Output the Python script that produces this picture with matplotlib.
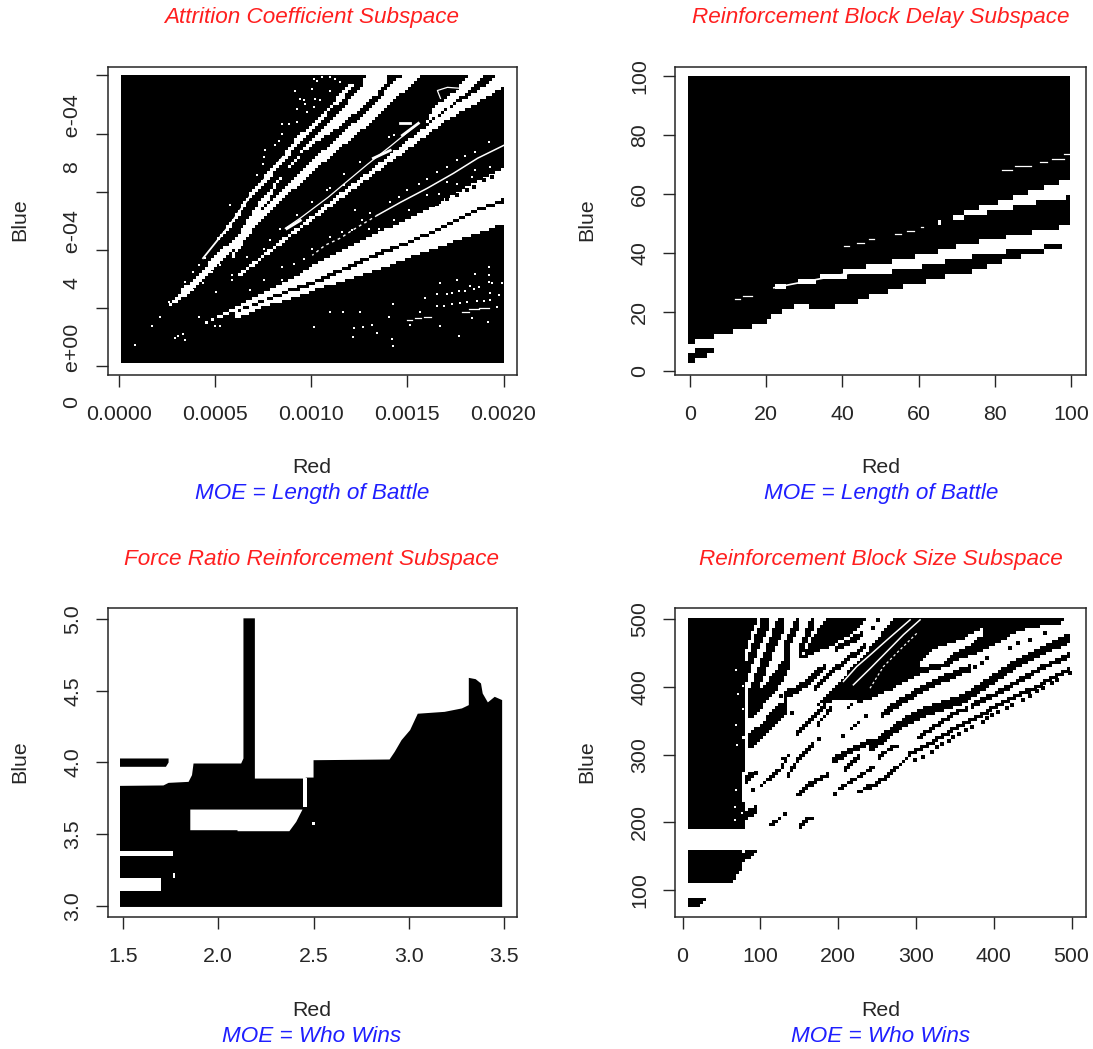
import numpy as np
import matplotlib
matplotlib.use("Agg")
import matplotlib.pyplot as plt
from matplotlib.path import Path

plt.rcParams['font.family'] = ['Liberation Sans', 'DejaVu Sans']

W, H = 1093, 1049
INK = '#262626'
RED = '#ff1f1f'
BLUE = '#1f1fff'

# ---------- Attrition panel (Red in 1e-5, Blue in 1e-6) ----------
AT_XTICKS = [0, 0.0005, 0.0010, 0.0015, 0.0020]
AT_XLABELS = ['0.0000', '0.0005', '0.0010', '0.0015', '0.0020']
AT_YTICKS = [0, 2e-4, 4e-4, 6e-4, 8e-4, 1e-3]
AT_YLABELS = ['0    e+00', '', '4    e-04', '', '8    e-04', '']
AT_XRANGE = (1, 200)
AT_YRANGE = (10, 1003)

AT_T1_R = [43.7, 57.8, 68.2, 77.6, 85.4, 92.7, 101, 108.8, 117.7, 121.3, 124, 116.7, 108.8, 102.1, 94.3, 87.5, 78.6, 68.2, 57.8, 47.4]
AT_T1_B = [371, 495, 594, 667, 725, 787, 838, 890, 955, 976, 976, 924, 873, 821, 773, 715, 649, 577, 478, 405]
AT_M_R = [25, 33.3, 42.2, 49, 61.5, 73, 82.5, 90.3, 97.5, 105.3, 113, 120.5, 126.6, 128.1, 140.1, 140.1, 134.4, 125.5, 115.1, 106.2, 96.9, 88, 82.5, 79, 71, 66, 56, 45, 35, 25.5]
AT_M_B = [203, 268, 320, 375, 450, 563, 639, 701, 759, 811, 862, 921, 966, 1003, 1003, 983, 938, 886, 828, 787, 742, 680, 629, 581, 512, 433, 385, 305, 244, 199]
AT_B2_R = [57.8, 67.2, 81.8, 95.8, 114.1, 130.2, 143.7, 147.9, 157.8, 152.6, 133.3, 115.1, 96.9, 82.8, 68.2, 58.9]
AT_B2_B = [378, 481, 588, 680, 787, 886, 983, 1003, 1003, 976, 852, 752, 646, 557, 457, 371]
AT_W3_R = [61.5, 94.3, 110.4, 128.1, 146.3, 169.8, 188, 195.8, 200, 200, 188, 169.8, 146.3, 128.1, 110.4, 94.3, 62.5]
AT_W3_B = [313, 484, 570, 660, 756, 880, 955, 1003, 1003, 962, 914, 845, 728, 639, 550, 471, 306]
AT_W3B_R = [181.2, 189.6, 180.2, 167.2, 159.4, 164.6, 175]
AT_W3B_B = [1003, 1003, 941, 873, 838, 897, 948]
AT_LA_R = [38.5, 52.6, 69.8, 90.6, 104.7, 116.7, 134.4, 151.6, 168.7, 186.5, 200, 200, 186.5, 168.7, 151.6, 134.4, 116.7, 99.5, 87.5, 69.8, 52.6]
AT_LA_B = [131, 175, 234, 302, 361, 399, 457, 512, 570, 639, 684, 577, 543, 484, 433, 392, 340, 289, 261, 213, 168]
AT_LB_R = [200, 186.5, 168.7, 151.6, 134.4, 116.7, 99.5, 87.5, 69.8, 59.4, 59.4, 75, 83.8, 104.7, 134.4, 151.6, 168.7, 186.5, 200]
AT_LB_B = [564, 533, 474, 423, 378, 326, 275, 251, 206, 182, 158, 203, 220, 268, 330, 375, 416, 457, 491]
AT_MID_R = [200, 186.5, 173.9, 160.4, 146.3, 134.4]
AT_MID_B = [759, 715, 663, 612, 563, 519]
AT_MIDD_R = [134.4, 121.3, 115.1, 107.3, 100.5]
AT_MIDD_B = [519, 467, 440, 416, 381]
AT_THIN_R = [86.5, 94.3, 108.8, 129.2, 141.1, 155.1]
AT_THIN_B = [474, 509, 581, 694, 756, 832]
AT_TIP_R = [43.7, 57.8, 68.2, 77.6, 85.4]
AT_TIP_B = [371, 487, 585, 658, 720]
AT_CHAIN_R = [167.2, 165.6, 170.8, 179.1]
AT_CHAIN_B = [921, 948, 959, 955]
AT_BLOBS = [([132.3, 141.1], [715, 742]), ([147.4, 155.7], [794, 835]), ([146.3, 151.6], [835, 835]), ([87.3, 94.3], [473, 501])]
AT_DASH_R = [(149.8, 152.4), (154.2, 157.1), (158.5, 162.3), (178.5, 182), (182, 187.2), (187.2, 192.4)]
AT_DASH_B = [158, 164, 170, 187, 195, 198]
AT_SPECK_R = [101.6, 109.6, 116.5, 125.5, 122.1, 126.9, 131.6, 121.7, 134.2, 142, 142.4, 140.6, 142.4, 156.4, 151.2, 159.4, 165.5, 165.5, 170.7, 173.3, 167.2, 175.9, 176.8, 180.2, 182.5, 184.6, 184.9, 192.4, 192.4, 192.4, 194.1, 187.2, 193.2, 197.6, 199.3, 168.9, 173.3, 177.1, 181.1, 186, 189.8, 193.2, 196.4, 166.9, 176.8, 183.7, 192,
              91.6, 92.5, 94.2, 96, 96.8, 100.3, 101.2, 102.9, 105.5, 109.9, 112.5, 115.1, 109.9, 102.1, 104.7, 97.7, 101.2, 88.2, 84.7, 84.7, 83, 81.2, 76, 75.5, 74.8, 71.7, 92.5,
              8.3, 17, 21.4, 26.2, 29.2, 30.9, 33.5, 34.4, 41.8, 50, 52.6, 38.4, 43.6, 50.5, 34.4, 41.8, 44.8, 38.4, 48.3, 52.6, 66.5, 57.8, 68.2, 58.7, 58.7, 75.5, 84.7, 83.9, 92.5, 90.8, 96, 100.3, 101.2, 75.2, 78.6, 84.7, 76,
              116.9, 125.5, 140.3, 142.9, 100.4, 109.9, 108.2, 116.9, 122.9, 126.4, 141.2, 130.7, 142.9, 150.7, 155.9, 160.3, 170.7, 165.5, 175.9, 180.2, 185.4, 192.4, 193.2, 185.4, 183.7, 175.9, 170.7, 166.3, 160.3, 145.5, 149.8, 135.1, 129.9, 116, 109.9, 121.2]
AT_SPECK_B = [135, 187, 187, 187, 130, 135, 141, 101, 113, 92, 69, 170, 213, 187, 141, 233, 248, 206, 248, 250, 284, 296, 258, 258, 275, 264, 315, 342, 313, 290, 284, 273, 250, 246, 284, 206, 213, 218, 221, 225, 224, 227, 204, 138, 105, 164, 153,
              948, 885, 919, 914, 902, 954, 988, 982, 994, 994, 988, 977, 948, 919, 914, 874, 891, 834, 834, 799, 776, 759, 742, 719, 696, 656, 839,
              72, 137, 169, 221, 95, 103, 110, 91, 169, 137, 137, 263, 286, 255, 289, 347, 373, 324, 324, 347, 375, 553, 263, 312, 295, 295, 341, 470, 518, 352, 370, 404, 135, 404, 433, 295, 530,
              662, 702, 788, 794, 565, 611, 605, 622, 536, 504, 565, 525, 504, 536, 628, 645, 685, 668, 708, 722, 737, 771, 685, 674, 651, 628, 633, 593, 588, 582, 605, 473, 473, 462, 445, 467]
AT_TEETH_R = [194.1, 189.8, 184.6, 181.1, 175.9, 170.7, 165.5]
AT_TEETH_B = [651, 639, 616, 607, 588, 576, 559]

# ---------- Block delay panel ----------
BD_XTICKS = [0, 20, 40, 60, 80, 100]
BD_YTICKS = [0, 20, 40, 60, 80, 100]
BD_XRANGE = (-0.6, 99.7)
BD_YRANGE = (2.6, 100)
BD_LOW_R = [-0.6, 2.3, 7.7, 14, 19.3, 22, 26.5, 30, 34.5, 40, 43.5, 48, 53.3, 56.9, 62.3, 68.5, 73.9, 79.2, 85.5, 90.9, 95.3, 98]
BD_LOW_B = [8.2, 10.5, 12.2, 14.5, 16.2, 19, 21.8, 22.4, 20.7, 22.4, 23.5, 25.8, 27.5, 29.2, 30.3, 32.5, 33.7, 35.9, 38.2, 39.9, 41.2, 41.2]
BD_B1T_R = [64, 71.2, 81, 90.9, 99.7]
BD_B1T_B = [49.8, 53.4, 57.4, 61.4, 64.9]
BD_B1L_R = [100.5, 99.7, 93.6, 86.4, 80.1, 72.1, 64]
BD_B1L_B = [59.1, 59.1, 58, 55.7, 54.6, 52.3, 49.8]
BD_B2T_R = [22, 32.7, 43.5, 53.3, 63.1, 68.5, 78.4, 86.4, 92.7, 99.7, 100.5]
BD_B2T_B = [28.6, 31.4, 34.8, 37.1, 39.9, 41.6, 44.4, 46.1, 47.8, 49.5, 49.5]
BD_B2L_R = [100.5, 98, 85.5, 81, 71.2, 63.1, 53.3, 48, 43.5, 32.7, 27.4, 22]
BD_B2L_B = [42.9, 42.9, 41, 39.9, 38.2, 35.9, 33.7, 32.5, 32.5, 30.3, 29.2, 27.7]
BD_THIN_R = [22, 27.4, 32.7, 43.5]
BD_THIN_B = [28.2, 29.6, 30.9, 33.6]
BD_ISLE_R = [-0.6, 1.5, 6.5, 6.5, 5, 2.3, -0.6]
BD_ISLE_B = [6, 7, 8.2, 6.5, 5.4, 4, 2.6]
BD_DASH_R = [(11.7, 13), (14, 16.2), (40.3, 41.7), (43.9, 45.7), (46.9, 48.4), (53.8, 55.4), (56.9, 58.7), (60.6, 61.2), (81.9, 84.6), (85.2, 89.5), (91.8, 93.6), (94.9, 98), (98, 99.7)]
BD_DASH_B = [24.3, 25.4, 42.4, 43.5, 44.6, 46.3, 47.5, 48.9, 68.2, 69.6, 70.7, 71.9, 73.4]

# ---------- Force ratio panel ----------
FR_XTICKS = [1.5, 2.0, 2.5, 3.0, 3.5]
FR_YTICKS = [3.0, 3.5, 4.0, 4.5, 5.0]
FR_MAIN_R = [1.484, 3.49, 3.49, 3.451, 3.415, 3.388, 3.379, 3.351, 3.315, 3.315, 3.279, 3.188, 3.047, 3.007, 2.962, 2.926, 2.899, 2.5, 2.5, 2.464, 2.446, 2.192, 2.192, 2.132, 2.132, 2.12, 1.87, 1.862, 1.844, 1.739, 1.712, 1.484]
FR_MAIN_B = [2.993, 2.993, 4.435, 4.458, 4.419, 4.481, 4.551, 4.581, 4.59, 4.4, 4.377, 4.353, 4.34, 4.226, 4.156, 4.074, 4.021, 4.016, 3.895, 3.895, 3.888, 3.888, 5.005, 5.005, 4.028, 3.993, 3.993, 3.912, 3.865, 3.858, 3.84, 3.837]
FR_HOLE_R = [1.853, 2.442, 2.409, 2.373, 2.101, 2.101, 1.853]
FR_HOLE_B = [3.672, 3.672, 3.586, 3.521, 3.521, 3.528, 3.528]
FR_SLIT_R = [2.446, 2.464, 2.464, 2.446]
FR_SLIT_B = [3.69, 3.69, 3.895, 3.895]
FR_STRIP_R = [1.484, 1.763, 1.763, 1.484]
FR_STRIP_B = [3.349, 3.349, 3.383, 3.383]
FR_RECT_R = [1.484, 1.699, 1.699, 1.484]
FR_RECT_B = [3.102, 3.102, 3.195, 3.195]
FR_SMALL1_R = [1.763, 1.772, 1.772, 1.763]
FR_SMALL1_B = [3.195, 3.195, 3.23, 3.23]
FR_SMALL2_R = [2.49, 2.51, 2.51, 2.49]
FR_SMALL2_B = [3.563, 3.563, 3.586, 3.586]
FR_ISLE_R = [1.484, 1.739, 1.739, 1.725, 1.484]
FR_ISLE_B = [4.028, 4.028, 4.0, 3.97, 3.97]

# ---------- Block size panel ----------
BS_XTICKS = [0, 100, 200, 300, 400, 500]
BS_YTICKS = [100, 200, 300, 400, 500]
BS_XRANGE = (7, 498)
BS_YRANGE = (75, 501)
BS_BLOCK_R = [7, 96.5, 88.8, 82.4, 80.3, 79.4, 82.4, 78.1, 82.4, 78.1, 78.1, 82.4, 80.3, 7]
BS_BLOCK_B = [501, 501, 477, 455, 440, 410, 366, 324, 297, 272, 233, 223, 191, 191]
BS_BLOCK2_R = [7, 73.8, 78.1, 99.5, 97.4, 84.5, 71.7, 80.3, 71.7, 63.1, 7]
BS_BLOCK2_B = [161.5, 161.5, 156.6, 160.5, 156.6, 146.8, 137, 132, 124.6, 111, 111]
BS_BLOCK3_R = [7, 31, 22.4, 20.3, 7]
BS_BLOCK3_B = [87.7, 87.7, 78, 75.4, 75.4]
BS_G_R = [184.4, 238.8, 215.2, 193.8, 170.2, 153.1, 163.8]
BS_G_B = [501, 501, 477, 462, 450, 440, 467]
BS_BODY_R = [172.4, 185.2, 202.4, 219.5, 240.9, 258.1, 273.1, 491.6, 485.2, 442.3, 425.2, 403.8, 382.4, 352.4, 343.8, 305.2, 283.8, 270.9, 240.9, 228.1, 211, 189.5]
BS_BODY_B = [373, 390, 410, 430, 459, 484, 501, 501, 494, 487, 479, 464, 452, 440, 432, 420, 408, 398, 383, 378, 383, 378]
BS_HOLE_R = [386.6, 360.9, 339.5, 322.3, 305.2, 303, 333, 348, 369.5, 386.6]
BS_HOLE_B = [489, 472, 464, 455, 437, 430, 435, 452, 462, 479]
BS_STREAKS = {
    'a1': ([110.3, 101.7, 93.1, 84.5, 80.3], [501, 484, 459, 432, 413], 33),
    'b1': ([130.4, 121, 110.3, 101.7, 93.1, 84.5], [501, 479, 450, 425, 400, 376], 36),
    'c1': ([151, 140.2, 131.7], [501, 477, 457], 25),
    'd1': ([140.2, 131.7, 121, 108.1, 93.1, 84.5], [452, 430, 410, 393, 373, 366], 30),
    'e1': ([169.4, 159.5, 151], [501, 474, 452], 22),
    'f1': ([185.2, 166, 146.7, 129.5], [432, 413, 395, 388], 12),
    'f2': ([236.7, 211, 189.5, 168.1], [464.4, 439.7, 420, 395.4], 9),
    's5': ([82.4, 99.5, 116.7, 136], [319, 331, 354, 373], 25),
    's': ([230.2, 215.2, 198.1], [479, 467, 458], 9),
    'j': ([255.9, 266.6, 283.8, 305.2, 330.9, 360.9, 371.6], [358.5, 368.3, 381.6, 395.4, 410.2, 425, 429.9], 11),
    'k': ([240.9, 262.3, 283.8, 305.2, 330.9, 360.9, 386.6, 412.3, 425.2, 455.2, 480.9, 498], [311.7, 329, 348.6, 360.9, 370.8, 383.1, 402.8, 422.5, 432.4, 449.6, 464.4, 471.7], 15),
    'l1': ([249.5, 262.3, 277.3], [294.5, 306.8, 314.2], 6),
    'l2': ([300.9, 326.6, 352.3, 367.3], [324, 343.7, 363.4, 368.3], 7),
    'l3': ([371.6, 403.7, 433.7, 463.7, 498], [373.3, 390.5, 410.2, 429.9, 447.1], 8),
    'm': ([240.9, 258, 281.6, 292.3, 318, 352.3, 386.6, 420.9, 455.2, 480.9, 498], [252.6, 264.9, 287.1, 301.9, 316.6, 341.3, 361, 383.1, 400.3, 417.6, 427.4], 7),
    'a': ([193.8, 211, 234.5, 243.1], [292, 301.9, 316.6, 321.6], 9),
    'b': ([206.7, 219.5, 225.9], [274.8, 289.5, 297], 8),
    'c': ([200.2, 215.2, 232.4, 245.2], [247.7, 260, 272.3, 282.2], 6),
    'd': ([221.7, 240.9], [242.8, 255.1], 5),
    'e': ([144.5, 157.4, 172.4, 187.4], [237.9, 250.2, 262.5, 269.9], 8),
    'f': ([99.5, 110.3, 125.2, 136], [252.6, 264.9, 277.2, 296.9], 8),
    'g': ([136, 144.5, 153.1, 168.1], [269.9, 284.6, 299.4, 316.6], 10),
    'g2': ([125.2, 140.2], [292, 299.4], 4),
    'h': ([110.3, 125.2], [193.5, 205.8], 6),
    'i': ([151, 159.5, 170.2], [193.5, 203.4, 207.3], 6),
    'jj': ([144.5, 157.4, 174.5, 185.2], [327.5, 343.7, 363.4, 375.7], 10),
    'kk': ([174.5, 193.8], [346.2, 370.8], 8),
    'k2': ([211, 219.5], [368.3, 375.7], 5),
    'll': ([215.2, 225.9], [336.3, 348.6], 8),
    'p1': ([80.3, 93.1], [262.5, 272.3], 12),
    'p2': ([80.3, 97.4], [210.8, 220.6], 14),
}
BS_W1 = ([292.4, 277.4, 262.4, 240.9, 223.8, 206.7], [499, 484, 469, 447, 430, 408])
BS_W2 = ([305.2, 283.8, 262.4, 240.9, 219.5], [499, 477, 452, 427, 403])
BS_W3 = ([300.9, 279.5, 258.1, 240.9], [479, 455, 430, 398])
BS_WSPECK_R = [78.1, 71.7, 78.1, 68.7, 70.4, 77.3, 68.7, 78.1, 68.7, 67.4, 76, 67.4]
BS_WSPECK_B = [401, 389, 367, 344, 314, 324, 425, 272, 248, 223, 213, 203]
BS_DOT_R = [235.8, 206.7, 175.8, 131.7, 91, 196, 245.2, 126.1, 140.2, 94.4, 251.6, 465.9, 446.6, 431.6, 420.9, 478.7, 375.9, 384.4, 390.9,
            298.7, 309.5, 320.2, 326.6, 333, 342.5, 348, 355.7, 364.3, 371.6, 386.6, 390.9, 397.3, 405.9, 416.6, 423, 438, 446.6, 456, 463.7, 474.4, 480.9, 498]
BS_DOT_B = [357, 327.5, 323, 212.3, 247.7, 241.8, 486.5, 386.6, 361, 272.3, 498.8, 479.1, 469.3, 464.4, 457, 462, 429.9, 434.8, 442.2,
            292, 297, 304.3, 311.7, 315.2, 320.6, 325.5, 330.4, 336.3, 341.3, 348.6, 353.6, 358.5, 363.4, 368.3, 373.3, 380.6, 386.6, 394, 397.9, 405.3, 410.2, 420]


def make_axes(fig, l, r, t, b, xlim, ylim):
    ax = fig.add_axes([l / W, 1 - b / H, (r - l) / W, (b - t) / H])
    ax.set_xlim(*xlim)
    ax.set_ylim(*ylim)
    for s in ax.spines.values():
        s.set_linewidth(1.1)
        s.set_color(INK)
    ax.tick_params(axis='x', length=8.6, width=1.0, color=INK, pad=13, labelsize=15.4, labelcolor=INK)
    ax.tick_params(axis='y', length=8.6, width=1.0, color=INK, pad=10, labelsize=15.4, labelcolor=INK)
    return ax


def set_ticks(ax, xt, xl, yt, yl):
    ax.set_xticks(xt)
    ax.set_xticklabels(xl)
    ax.set_yticks(yt)
    ax.set_yticklabels(yl, rotation=90, va='center')


def labels(fig, cx, title, moe, ty, ry, my, bx, by):
    fig.text(cx / W, 1 - ty / H, title, color=RED, style='italic', ha='center', va='center', fontsize=16.2)
    fig.text(cx / W, 1 - ry / H, 'Red', color=INK, ha='center', va='center', fontsize=15.4)
    fig.text(cx / W, 1 - my / H, moe, color=BLUE, style='italic', ha='center', va='center', fontsize=16.2)
    fig.text(bx / W, 1 - by / H, 'Blue', color=INK, rotation=90, ha='center', va='center', fontsize=15.4)


def cell_centres(rng_x, rng_y, nx, ny):
    xe = np.linspace(rng_x[0], rng_x[1], nx + 1)
    ye = np.linspace(rng_y[0], rng_y[1], ny + 1)
    xc = 0.5 * (xe[:-1] + xe[1:])
    yc = 0.5 * (ye[:-1] + ye[1:])
    gx, gy = np.meshgrid(xc, yc)
    return xe, ye, np.column_stack([gx.ravel(), gy.ravel()]), gx.shape


def paint(grid, pts, shape, xs, ys, val):
    mask = Path(np.column_stack([xs, ys])).contains_points(pts).reshape(shape)
    grid[mask] = val


def band(xs, ys, h):
    xs = np.asarray(xs, float)
    ys = np.asarray(ys, float)
    return np.r_[xs, xs[::-1]], np.r_[ys + h / 2, (ys - h / 2)[::-1]]


fig = plt.figure(figsize=(W / 100, H / 100), dpi=100)

# ---- Attrition
ax = make_axes(fig, 108, 517, 67, 375, (-5.73e-5, 0.00207), (-3.09e-5, 1.029e-3))
xe, ye, pts, shp = cell_centres(AT_XRANGE, AT_YRANGE, 128, 96)
g = np.ones(shp)
for xs, ys in [(AT_T1_R, AT_T1_B), (AT_M_R, AT_M_B), (AT_B2_R, AT_B2_B), (AT_W3_R, AT_W3_B),
               (AT_W3B_R, AT_W3B_B), (AT_LA_R, AT_LA_B), (AT_LB_R, AT_LB_B)]:
    paint(g, pts, shp, xs, ys, 0)
ax.pcolormesh(xe * 1e-5, ye * 1e-6, g, cmap='gray_r', vmin=0, vmax=1, antialiased=False)
sx, sy = 1e-5, 1e-6
ax.plot(np.array(AT_TIP_R) * sx, np.array(AT_TIP_B) * sy, color='w', lw=1.3)
ax.plot(np.array(AT_MID_R) * sx, np.array(AT_MID_B) * sy, color='w', lw=1.1)
ax.plot(np.array(AT_MIDD_R) * sx, np.array(AT_MIDD_B) * sy, color='w', lw=1.0, ls=(0, (2, 2.5)))
ax.plot(np.array(AT_THIN_R) * sx, np.array(AT_THIN_B) * sy, color='w', lw=0.9)
ax.plot(np.array(AT_CHAIN_R) * sx, np.array(AT_CHAIN_B) * sy, color='w', lw=0.9)
for xs, ys in AT_BLOBS:
    ax.plot(np.array(xs) * sx, np.array(ys) * sy, color='w', lw=2.0)
for (x0, x1), y in zip(AT_DASH_R, AT_DASH_B):
    ax.plot([x0 * sx, x1 * sx], [y * sy, y * sy], color='w', lw=0.9)
ax.plot(np.array(AT_SPECK_R) * sx, np.array(AT_SPECK_B) * sy, ls='', marker='s', ms=1.8, mew=0, color='w')
ax.plot(np.array(AT_TEETH_R) * sx, np.array(AT_TEETH_B) * sy, ls='', marker='s', ms=2.4, mew=0, color='k')
set_ticks(ax, AT_XTICKS, AT_XLABELS, AT_YTICKS, AT_YLABELS)
labels(fig, 312, 'Attrition Coefficient Subspace', 'MOE = Length of Battle', 18, 468, 493, 20, 220)

# ---- Block delay
ax = make_axes(fig, 675, 1086, 67, 375, (-3.95, 103.9), (-1.36, 103.05))
xe, ye, pts, shp = cell_centres(BD_XRANGE, BD_YRANGE, 101, 58)
g = np.zeros(shp)
paint(g, pts, shp, [-0.6, 99.7, 99.7] + BD_LOW_R[::-1], [100, 100, 49.5] + BD_LOW_B[::-1], 1)
paint(g, pts, shp, BD_B1T_R + BD_B1L_R, BD_B1T_B + BD_B1L_B, 0)
paint(g, pts, shp, BD_B2T_R + BD_B2L_R, BD_B2T_B + BD_B2L_B, 0)
paint(g, pts, shp, BD_ISLE_R, BD_ISLE_B, 1)
ax.pcolormesh(xe, ye, g, cmap='gray_r', vmin=0, vmax=1, antialiased=False)
ax.plot(BD_THIN_R, BD_THIN_B, color='w', lw=1.2)
for (x0, x1), y in zip(BD_DASH_R, BD_DASH_B):
    ax.plot([x0, x1], [y, y], color='w', lw=0.9)
set_ticks(ax, BD_XTICKS, [str(v) for v in BD_XTICKS], BD_YTICKS, [str(v) for v in BD_YTICKS])
labels(fig, 881, 'Reinforcement Block Delay Subspace', 'MOE = Length of Battle', 18, 468, 493, 587, 220)

# ---- Force ratio
ax = make_axes(fig, 108, 517, 608, 917, (1.421, 3.568), (2.923, 5.077))
ax.fill(FR_MAIN_R, FR_MAIN_B, color='k', lw=0)
ax.fill(FR_ISLE_R, FR_ISLE_B, color='k', lw=0)
for xs, ys in [(FR_HOLE_R, FR_HOLE_B), (FR_SLIT_R, FR_SLIT_B), (FR_STRIP_R, FR_STRIP_B),
               (FR_RECT_R, FR_RECT_B), (FR_SMALL1_R, FR_SMALL1_B), (FR_SMALL2_R, FR_SMALL2_B)]:
    ax.fill(xs, ys, color='w', lw=0)
set_ticks(ax, FR_XTICKS, ['%.1f' % v for v in FR_XTICKS], FR_YTICKS, ['%.1f' % v for v in FR_YTICKS])
labels(fig, 312, 'Force Ratio Reinforcement Subspace', 'MOE = Who Wins', 560, 1011, 1036, 20, 762)

# ---- Block size
ax = make_axes(fig, 675, 1086, 608, 917, (-9.8, 518.5), (60.1, 516.5))
xe, ye, pts, shp = cell_centres(BS_XRANGE, BS_YRANGE, 127, 96)
g = np.zeros(shp)
for xs, ys in [(BS_BLOCK_R, BS_BLOCK_B), (BS_BLOCK2_R, BS_BLOCK2_B), (BS_BLOCK3_R, BS_BLOCK3_B),
               (BS_G_R, BS_G_B), (BS_BODY_R, BS_BODY_B)]:
    paint(g, pts, shp, xs, ys, 1)
paint(g, pts, shp, BS_HOLE_R, BS_HOLE_B, 0)
for xs, ys, h in BS_STREAKS.values():
    px, py = band(xs, ys, h)
    paint(g, pts, shp, px, py, 1)
ax.pcolormesh(xe, ye, g, cmap='gray_r', vmin=0, vmax=1, antialiased=False)
for xs, ys in (BS_W1, BS_W2):
    ax.plot(xs, ys, color='w', lw=1.1)
ax.plot(*BS_W3, color='w', lw=0.9, ls=(0, (2, 2)))
ax.plot(BS_WSPECK_R, BS_WSPECK_B, ls='', marker='s', ms=1.6, mew=0, color='w')
ax.plot(BS_DOT_R, BS_DOT_B, ls='', marker='s', ms=2.6, mew=0, color='k')
set_ticks(ax, BS_XTICKS, [str(v) for v in BS_XTICKS], BS_YTICKS, [str(v) for v in BS_YTICKS])
labels(fig, 881, 'Reinforcement Block Size Subspace', 'MOE = Who Wins', 560, 1011, 1036, 587, 762)

fig.savefig('out.png', dpi=100)
